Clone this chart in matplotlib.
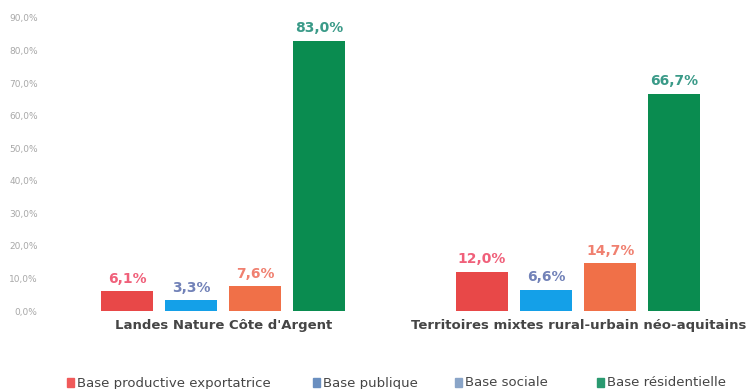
import matplotlib
matplotlib.use("Agg")
import matplotlib.pyplot as plt
from matplotlib.patches import Rectangle
import numpy as np

categories = ["Landes Nature Côte d'Argent", "Territoires mixtes rural-urbain néo-aquitains"]
series_values = [
    [6.1, 12.0],   # red
    [3.3, 6.6],    # blue
    [7.6, 14.7],   # orange
    [83.0, 66.7],  # green
]
legend_labels = ["Base productive exportatrice", "Base publique", "Base sociale", "Base résidentielle"]
y_ticks = [0, 10, 20, 30, 40, 50, 60, 70, 80, 90]

bar_colors = ["#e84848", "#14a0e8", "#f07048", "#0a8c50"]
label_colors = ["#f0607a", "#7282b8", "#f08070", "#3a9a88"]
legend_colors = ["#f05a5a", "#6a8fc0", "#8aa5c8", "#2a9a70"]

W, H = 746, 389
fig = plt.figure(figsize=(W / 100, H / 100), dpi=100)
ax = fig.add_axes([46 / W, (H - 311) / H, (W - 46) / W, (311 - 18) / H])

x = np.arange(len(categories))
width = 0.1465
offsets = [-0.272, -0.091, 0.090, 0.270]
for vals, off, bc, lc in zip(series_values, offsets, bar_colors, label_colors):
    bars = ax.bar(x + off, vals, width, color=bc)
    for b, v in zip(bars, vals):
        ax.annotate(f"{v:.1f}%".replace(".", ","),
                    (b.get_x() + b.get_width() / 2, v),
                    xytext=(0, 4), textcoords="offset points",
                    ha="center", va="bottom", color=lc,
                    fontsize=10, fontweight="bold", clip_on=False)

ax.set_xlim(-0.5, (W - 223.5) / 355)
ax.set_ylim(0, 90)
ax.set_yticks(y_ticks)
ax.set_yticklabels([f"{t:.1f}%".replace(".", ",") for t in y_ticks],
                   fontsize=6.5, color="#a8a8a8")
ax.set_xticks(x)
ax.set_xticklabels(categories, fontsize=9.5, fontweight="bold", color="#454545")
ax.tick_params(axis="y", length=0, pad=6)
ax.tick_params(axis="x", length=0, pad=6)
for s in ax.spines.values():
    s.set_visible(False)

# legend
leg_x = [67, 313, 455, 597]
for lx, lab, col in zip(leg_x, legend_labels, legend_colors):
    fig.patches.append(Rectangle((lx / W, (H - 387) / H), 7 / W, 9 / H,
                                 transform=fig.transFigure, color=col))
    fig.text((lx + 10) / W, (H - 383) / H, lab, fontsize=9.5, color="#454545",
             va="center", ha="left", fontweight="medium")

fig.savefig("out.png", dpi=100)
